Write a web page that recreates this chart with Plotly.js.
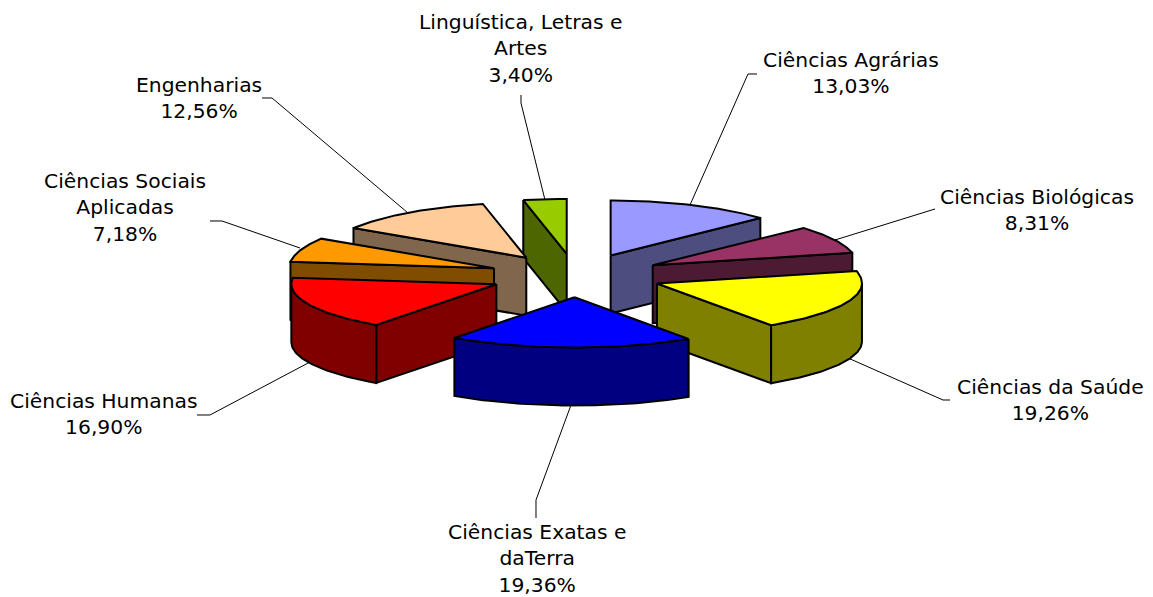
<!DOCTYPE html>
<html>
<head>
<meta charset="utf-8">
<script src="https://cdn.plot.ly/plotly-3.0.1.min.js"></script>
<style>html,body{margin:0;padding:0;background:#fff}#chart{width:1153px;height:597px}</style>
</head>
<body>
<div id="chart"></div>
<script>
// Data, in the order of the pie (clockwise from 12 o'clock)
const categories = ["Ciências Agrárias","Ciências Biológicas","Ciências da Saúde","Ciências Exatas e daTerra","Ciências Humanas","Ciências Sociais Aplicadas","Engenharias","Linguística, Letras e Artes"];
const shares = [13.03, 8.31, 19.26, 19.36, 16.90, 7.18, 12.56, 3.40];
const labelTexts = ["Ciências Agrárias<br>13,03%","Ciências Biológicas<br>8,31%","Ciências da Saúde<br>19,26%","Ciências Exatas e<br>daTerra<br>19,36%","Ciências Humanas<br>16,90%","Ciências Sociais<br>Aplicadas<br>7,18%","Engenharias<br>12,56%","Linguística, Letras e<br>Artes<br>3,40%"];
const topColors = ["#9999FF","#993366","#FFFF00","#0000FF","#FF0000","#FF9900","#FFCC99","#99CC00"];
const wallColors = ["#4D4D80","#4D1A33","#808000","#000080","#800000","#804D00","#80664D","#4D6600"];
// Painter's order: back slices first
const drawOrder = [7, 6, 0, 1, 5, 4, 2, 3];
// Label centres and leader lines, in image pixels
const labelX = [851, 1037, 1050, 537, 104, 125, 199, 520];
const labelY = [73, 210, 400, 558, 414, 207, 98, 49];
const leaders = [
  [[690,205],[748,74],[757,74]],
  [[835,240],[935,209]],
  [[848,358],[943,400],[950,400]],
  [[571,405],[536,500],[536,518]],
  [[310,362],[210,415],[197,415]],
  [[300,248],[222,221],[210,221]],
  [[408,213],[272,98],[262,98]],
  [[545,200],[521,103],[521,95]]
];

// Pseudo-3D geometry (unit = pie radius)
const W = 1153, H = 597, R = 205, CX = 576, CY = 275.5;
const TILT_BACK = 0.268, TILT_FRONT = 0.245, PULL = 87 / R, DEPTH = 58 / R;
const rad = d => d * Math.PI / 180;
const total = shares.reduce((a, b) => a + b, 0);
const tiltY = c => c * (c > 0 ? TILT_BACK : TILT_FRONT);

let acc = 0;
const slices = shares.map((s, i) => {
  const a = acc / total * 360; acc += s;
  const b = acc / total * 360;
  const mid = (a + b) / 2;
  return {i, a, b, ox: PULL * Math.sin(rad(mid)), oy: PULL * Math.cos(rad(mid)) * 0.25};
});
const rimX = (sl, t) => sl.ox + Math.sin(rad(t));
const rimY = (sl, t) => sl.oy + tiltY(Math.cos(rad(t)));

function polygon(xs, ys, fill, name) {
  return {type: "scatter", mode: "lines", x: xs.concat(xs[0]), y: ys.concat(ys[0]), fill: "toself",
    fillcolor: fill, line: {color: "#000", width: 2}, text: name, hoverinfo: "text", hoveron: "fills", showlegend: false};
}

const traces = [];
drawOrder.forEach(i => {
  const sl = slices[i], name = categories[i] + ": " + shares[i].toFixed(2).replace(".", ",") + "%";
  // radial walls that face the viewer
  [[sl.a, Math.sin(rad(sl.a)) < -1e-6], [sl.b, Math.sin(rad(sl.b)) > 1e-6]].forEach(([t, vis]) => {
    if (!vis) return;
    const x1 = rimX(sl, t), y1 = rimY(sl, t);
    traces.push(polygon([sl.ox, x1, x1, sl.ox], [sl.oy, y1, y1 - DEPTH, sl.oy - DEPTH], wallColors[i], name));
  });
  // outer curved wall, front half only
  const from = Math.max(sl.a, 90), to = Math.min(sl.b, 270);
  if (to > from) {
    const xs = [], ys = [];
    for (let t = from; t <= to + 1e-6; t += (to - from) / 60) { xs.push(rimX(sl, t)); ys.push(rimY(sl, t)); }
    for (let k = xs.length - 1; k >= 0; k--) { xs.push(xs[k]); ys.push(ys[k] - DEPTH); }
    traces.push(polygon(xs, ys, wallColors[i], name));
  }
  // top face
  const xs = [sl.ox], ys = [sl.oy];
  for (let k = 0; k <= 60; k++) { const t = sl.a + (sl.b - sl.a) * k / 60; xs.push(rimX(sl, t)); ys.push(rimY(sl, t)); }
  traces.push(polygon(xs, ys, topColors[i], name));
});

const layout = {
  width: W, height: H, margin: {l: 0, r: 0, t: 0, b: 0},
  paper_bgcolor: "#fff", plot_bgcolor: "#fff", showlegend: false,
  xaxis: {visible: false, range: [-CX / R, (W - CX) / R], fixedrange: true},
  yaxis: {visible: false, range: [(CY - H) / R, CY / R], fixedrange: true},
  annotations: labelTexts.map((t, i) => ({
    text: t, xref: "paper", yref: "paper", x: labelX[i] / W, y: 1 - labelY[i] / H,
    xanchor: "center", yanchor: "middle", align: "center", showarrow: false,
    font: {family: "'DejaVu Sans', Verdana, sans-serif", size: 20.3, color: "#000"}
  })),
  shapes: leaders.map(pts => ({
    type: "path", xref: "paper", yref: "paper", layer: "below",
    path: pts.map((p, k) => (k ? "L" : "M") + (p[0] / W).toFixed(5) + "," + (1 - p[1] / H).toFixed(5)).join(" "),
    line: {color: "#000", width: 1}
  }))
};
Plotly.newPlot("chart", traces, layout, {displayModeBar: false});
</script>
</body>
</html>
